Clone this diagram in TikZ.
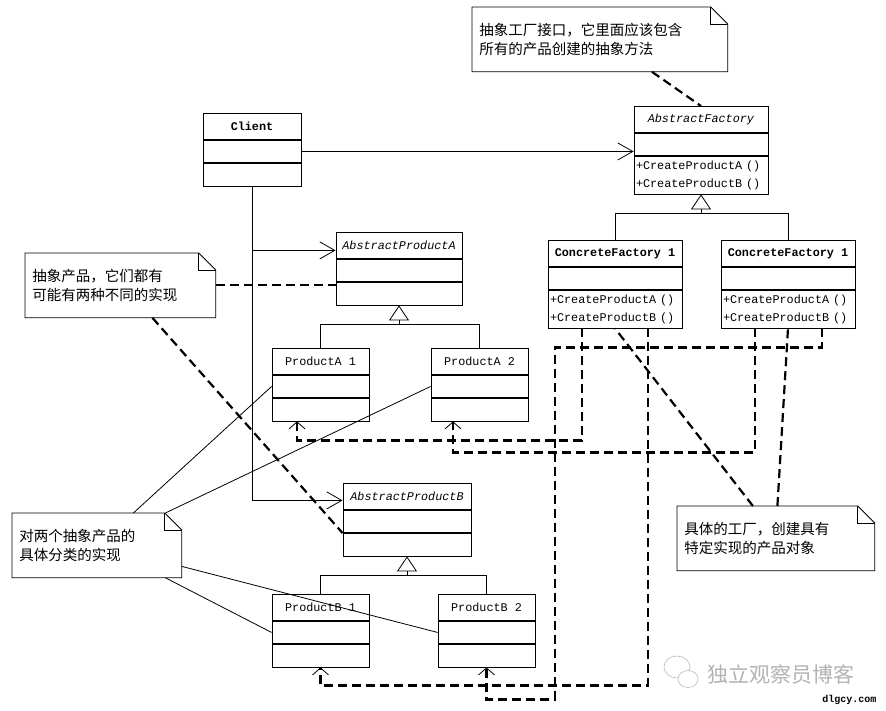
\documentclass[tikz,border=0pt]{standalone}
\usepackage{fontspec}
\usepackage{tikz}
\usetikzlibrary{arrows.meta,positioning}
\newfontfamily\umlfont{Liberation Mono}
\newfontfamily\cjk{Noto Sans CJK SC}
% note with a folded corner round a node
\newcommand\drawnote[1]{%
  \draw (#1.south west) -- (#1.north west) -- ([xshift=-17pt]#1.north east)
    -- ([yshift=-17pt]#1.north east) -- (#1.south east) -- cycle;
  \draw ([xshift=-17pt]#1.north east) |- ([yshift=-17pt]#1.north east);}
\begin{document}
\begin{tikzpicture}[
  x=1pt,y=-1pt,line width=0.8pt,
  cls/.style={draw,minimum width=#1,inner xsep=2pt,inner ysep=0pt,
    font=\umlfont\fontsize{11.8}{18}\selectfont},
  ctitle/.style={cls=#1,minimum height=26pt},
  cattr/.style={cls=#1,minimum height=22.5pt},
  cops/.style={cls=#1,minimum height=37.5pt,text width=130pt,align=left},
  note/.style={minimum height=64pt,inner xsep=7pt,inner ysep=0pt,align=left,
    anchor=north west,font=\cjk\fontsize{14.5}{18.5}\selectfont},
  assoc/.style={-{Straight Barb[length=15pt,width=17pt]}},
  gen/.style={-{Triangle[open,length=15pt,width=20pt]}},
  dep/.style={line width=2.2pt,dash pattern=on 9pt off 5pt,
    -{Straight Barb[length=7pt,width=16pt,line width=0.8pt]}},
  attach/.style={line width=2.2pt,dash pattern=on 9pt off 5pt},
]
\useasboundingbox (0,0) rectangle (886,711);

% classes
\node[ctitle=98pt,anchor=north] (client) at (252,113) {\textbf{Client}};
\node[cattr=98pt,below=0pt of client] (client-a) {};
\node[cattr=98pt,below=0pt of client-a] (client-o) {};

\node[ctitle=134pt,anchor=north] (af) at (701,106) {\textit{AbstractFactory}};
\node[cattr=134pt,below=0pt of af] (af-a) {};
\node[cops=134pt,below=0pt of af-a] (af-o) {+CreateProductA ()\\+CreateProductB ()};

\node[ctitle=134pt,anchor=north] (cf1) at (615,240) {\textbf{ConcreteFactory 1}};
\node[cattr=134pt,below=0pt of cf1] (cf1-a) {};
\node[cops=134pt,below=0pt of cf1-a] (cf1-o) {+CreateProductA ()\\+CreateProductB ()};

\node[ctitle=134pt,anchor=north] (cf2) at (788,240) {\textbf{ConcreteFactory 1}};
\node[cattr=134pt,below=0pt of cf2] (cf2-a) {};
\node[cops=134pt,below=0pt of cf2-a] (cf2-o) {+CreateProductA ()\\+CreateProductB ()};

\node[ctitle=126pt,anchor=north] (apa) at (399,232) {\textit{AbstractProductA}};
\node[cattr=126pt,below=0pt of apa] (apa-a) {};
\node[cattr=126pt,below=0pt of apa-a] (apa-o) {};

\node[ctitle=97pt,anchor=north] (pa1) at (320.5,348) {ProductA 1};
\node[cattr=97pt,below=0pt of pa1] (pa1-a) {};
\node[cattr=97pt,below=0pt of pa1-a] (pa1-o) {};

\node[ctitle=97pt,anchor=north] (pa2) at (479.5,348) {ProductA 2};
\node[cattr=97pt,below=0pt of pa2] (pa2-a) {};
\node[cattr=97pt,below=0pt of pa2-a] (pa2-o) {};

\node[ctitle=128pt,anchor=north] (apb) at (407,483) {\textit{AbstractProductB}};
\node[cattr=128pt,below=0pt of apb] (apb-a) {};
\node[cattr=128pt,below=0pt of apb-a] (apb-o) {};

\node[ctitle=97pt,anchor=north] (pb1) at (320.5,594) {ProductB 1};
\node[cattr=97pt,below=0pt of pb1] (pb1-a) {};
\node[cattr=97pt,below=0pt of pb1-a] (pb1-o) {};

\node[ctitle=97pt,anchor=north] (pb2) at (486.5,594) {ProductB 2};
\node[cattr=97pt,below=0pt of pb2] (pb2-a) {};
\node[cattr=97pt,below=0pt of pb2-a] (pb2-o) {};

% notes
\node[note,text width=241pt] (topnote) at (472,7) {抽象工厂接口，它里面应该包含\\所有的产品创建的抽象方法};
\drawnote{topnote}
\node[note,text width=176pt] (absnote) at (25,253) {抽象产品，它们都有\\可能有两种不同的实现};
\drawnote{absnote}
\node[note,text width=155pt] (implnote) at (12,513) {对两个抽象产品的\\具体分类的实现};
\drawnote{implnote}
\node[note,text width=183pt] (facnote) at (677,506) {具体的工厂，创建具有\\特定实现的产品对象};
\drawnote{facnote}

% client associations
\draw[assoc] (client-a.east) -- (client-a.east -| af.west);
\draw[assoc] (client-o.south) |- ([yshift=-4pt]apb.west);
\draw[assoc] ([yshift=-5pt]apa.west -| client-o.south) -- ([yshift=-5pt]apa.west);

% generalizations
\coordinate (afjoin) at ([yshift=-19pt]af-o.south);
\draw (cf1.north) |- (afjoin) -| (cf2.north);
\draw[gen] (afjoin) -- (af-o.south);
\coordinate (apajoin) at ([yshift=-19pt]apa-o.south);
\draw (pa1.north) |- (apajoin) -| (pa2.north);
\draw[gen] (apajoin) -- (apa-o.south);
\coordinate (apbjoin) at ([yshift=-19pt]apb-o.south);
\draw (pb1.north) |- (apbjoin) -| (pb2.north);
\draw[gen] (apbjoin) -- (apb-o.south);

% note attachments
\draw[attach] ([xshift=52pt]topnote.south) -- (af.north);
\draw[attach] (absnote.east) -- (absnote.east -| apa.west);
\draw[attach] ([xshift=32pt]absnote.south) -- (apb-a.south west);
\draw[attach] ([xshift=-23pt]facnote.north) -- (cf1-o.south);
\draw[attach] ([xshift=1.5pt]facnote.north) -- (cf2-o.south);
\draw ([xshift=36.5pt]implnote.north) -- (pa1-a.west);
\draw ([xshift=68.5pt]implnote.north) -- (pa2-a.west);
\draw ([yshift=-21pt]implnote.east) -- (pb2-a.west);
\draw ([xshift=68.5pt]implnote.south) -- (pb1-a.west);

% factories create products
\draw[dep] ([xshift=-33pt]cf1-o.south) -- ++(0,112) -| ([xshift=-23.5pt]pa1-o.south);
\draw[dep] ([xshift=-33pt]cf2-o.south) -- ++(0,124) -| ([xshift=-26.5pt]pa2-o.south);
\draw[dep] ([xshift=33pt]cf1-o.south) -- ++(0,357) -| (pb1-o.south);
\draw[dep] ([xshift=34pt]cf2-o.south) -- ++(0,19) -- ++(-267,0) -- ++(0,352) -| (pb2-o.south);

% watermark
\draw[gray!55,line width=0.6pt] (677,667) ellipse [x radius=13pt,y radius=11pt];
\draw[gray!55,line width=0.6pt,fill=white] (688,679) ellipse [x radius=10pt,y radius=8.5pt];
\node[font=\cjk\fontsize{21}{21}\selectfont,text=gray!60] (mark) at (781,674) {独立观察员博客};
\node[font=\umlfont\bfseries\fontsize{10}{10}\selectfont,anchor=east] (site) at (880,700) {dlgcy.com};
\end{tikzpicture}
\end{document}
